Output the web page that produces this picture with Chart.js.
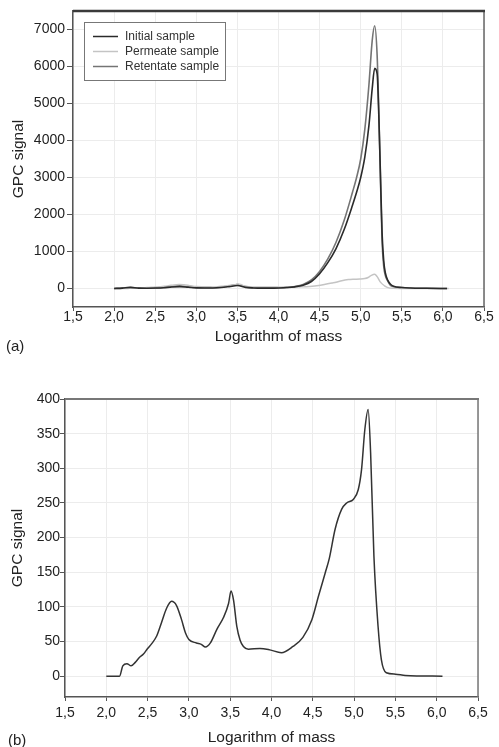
<!DOCTYPE html>
<html>
<head>
<meta charset="utf-8">
<script src="https://cdn.jsdelivr.net/npm/chart.js@4.4.1/dist/chart.umd.min.js"></script>
<style>
  body { margin: 0; background: #fff; width: 499px; height: 747px; position: relative; overflow: hidden; font-family: "Liberation Sans", Arial, sans-serif; }
  .panel { position: absolute; left: 0; width: 499px; }
  #wrapA { top: 0; height: 360px; }
  #wrapB { top: 362px; height: 385px; }
  .tag { position: absolute; font-size: 15px; color: #222; }
</style>
</head>
<body>
<div class="panel" id="wrapA"><canvas id="chartA"></canvas></div>
<div class="panel" id="wrapB"><canvas id="chartB"></canvas></div>
<div class="tag" style="left:6px; top:337px;">(a)</div>
<div class="tag" style="left:8px; top:731px;">(b)</div>
<script>
// log mass grid shared by the initial and retentate traces
const massA = [2.0, 2.1, 2.2, 2.3, 2.4, 2.5, 2.6, 2.7, 2.8, 2.9, 3.0, 3.1, 3.2, 3.3, 3.4, 3.5, 3.6, 3.7, 3.8, 3.9,
  4.0, 4.1, 4.2, 4.3, 4.4, 4.5, 4.6, 4.7, 4.8, 4.9, 4.95, 5.0, 5.05, 5.1, 5.14, 5.17, 5.2, 5.22, 5.24, 5.26,
  5.28, 5.3, 5.33, 5.36, 5.4, 5.5, 5.6, 5.8, 6.05];
const initialSignal = [0, 10, 30, 10, 8, 12, 20, 40, 50, 35, 18, 15, 15, 25, 50, 80, 30, 15, 10, 10,
  15, 25, 45, 90, 190, 400, 700, 1080, 1600, 2250, 2600, 3000, 3550, 4400, 5400, 5950, 5800, 4700, 3100, 1500,
  750, 420, 220, 120, 60, 25, 12, 5, 0];
const retentateSignal = [0, 15, 25, 10, 10, 15, 25, 55, 70, 45, 25, 20, 20, 35, 70, 110, 40, 20, 15, 15,
  20, 30, 55, 110, 230, 460, 800, 1250, 1850, 2600, 3000, 3500, 4300, 5500, 6700, 7100, 6300, 4800, 3000, 1300,
  600, 350, 200, 90, 50, 25, 12, 5, 0];

// permeate trace (also drawn on its own in panel b)
const massP = [2.0, 2.16, 2.2, 2.25, 2.3, 2.35, 2.4, 2.45, 2.5, 2.55, 2.61, 2.67, 2.73, 2.79, 2.85, 2.91, 2.96, 3.0,
  3.09, 3.15, 3.2, 3.26, 3.34, 3.42, 3.48, 3.51, 3.54, 3.58, 3.62, 3.66, 3.72, 3.86, 3.98, 4.12, 4.26, 4.38, 4.49,
  4.57, 4.65, 4.7, 4.77, 4.85, 4.91, 4.99, 5.05, 5.09, 5.13, 5.17, 5.2, 5.24, 5.29, 5.33, 5.39, 5.5, 5.62, 6.07];
const permeateSignal = [0, 0, 15, 18, 15, 20, 27, 32, 40, 47, 58, 78, 98, 108, 102, 82, 62, 53,
  48, 46, 42, 48, 68, 85, 105, 123, 110, 72, 52, 43, 39, 40, 38, 34, 43, 56, 82,
  116, 149, 170, 212, 241, 250, 255, 269, 298, 356, 385, 322, 173, 72, 24, 5, 3, 1, 0];

const xTicks = [1.5, 2.0, 2.5, 3.0, 3.5, 4.0, 4.5, 5.0, 5.5, 6.0, 6.5];
const yTicksA = [0, 1000, 2000, 3000, 4000, 5000, 6000, 7000];
const yTicksB = [0, 50, 100, 150, 200, 250, 300, 350, 400];

const pts = (xs, ys) => xs.map((x, i) => ({ x: x, y: ys[i] }));

Chart.defaults.font.family = '"Liberation Sans", Arial, sans-serif';
Chart.defaults.color = '#222';

// top and right edges of the plot box
const framePlugin = {
  id: 'frame',
  afterDatasetsDraw(chart, args, opts) {
    const { ctx, chartArea: a } = chart;
    ctx.save();
    ctx.strokeStyle = opts.rightColor;
    ctx.lineWidth = opts.rightWidth;
    ctx.beginPath(); ctx.moveTo(a.right, a.top); ctx.lineTo(a.right, a.bottom); ctx.stroke();
    ctx.strokeStyle = opts.topColor;
    ctx.lineWidth = opts.topWidth;
    ctx.beginPath(); ctx.moveTo(a.left, a.top); ctx.lineTo(a.right + 1, a.top); ctx.stroke();
    ctx.restore();
  }
};

// boxed legend sitting inside the plot area
const insetLegend = {
  id: 'insetLegend',
  afterDraw(chart, args, opts) {
    if (!opts.show) return;
    const { ctx } = chart;
    ctx.save();
    ctx.fillStyle = '#fff';
    ctx.fillRect(opts.x, opts.y, opts.w, opts.h);
    ctx.strokeStyle = '#777';
    ctx.lineWidth = 1;
    ctx.strokeRect(opts.x + 0.5, opts.y + 0.5, opts.w, opts.h);
    ctx.font = '12px "Liberation Sans", Arial, sans-serif';
    ctx.textBaseline = 'middle';
    chart.data.datasets.forEach((ds, i) => {
      const cy = opts.y + 14.5 + i * 15;
      ctx.strokeStyle = ds.borderColor;
      ctx.lineWidth = 1.5;
      ctx.beginPath(); ctx.moveTo(opts.x + 9, cy); ctx.lineTo(opts.x + 34, cy); ctx.stroke();
      ctx.fillStyle = '#333';
      ctx.fillText(ds.label, opts.x + 41, cy);
    });
    ctx.restore();
  }
};

function makeOptions(cfg) {
  return {
    responsive: true,
    maintainAspectRatio: false,
    animation: false,
    layout: { padding: { top: cfg.padTop, right: cfg.padRight, left: 0, bottom: 0 } },
    elements: { point: { radius: 0 } },
    plugins: {
      legend: { display: false },
      tooltip: { enabled: false },
      frame: cfg.frame,
      insetLegend: cfg.legend
    },
    scales: {
      x: {
        type: 'linear',
        min: 1.5,
        max: 6.5,
        afterBuildTicks: s => { s.ticks = xTicks.map(v => ({ value: v })); },
        afterFit: s => { s.height = cfg.xHeight; },
        grid: { color: '#ececec', lineWidth: 1, tickLength: 4, tickColor: '#555' },
        border: { color: '#555', width: 1.5 },
        ticks: {
          padding: cfg.xTickPad,
          maxRotation: 0,
          font: { size: 14 },
          callback: v => v.toFixed(1).replace('.', ',')
        },
        title: {
          display: true,
          text: 'Logarithm of mass',
          font: { size: 15.5 },
          padding: { top: 0, bottom: cfg.xTitlePad }
        }
      },
      y: {
        min: cfg.yMin,
        max: cfg.yMax,
        afterBuildTicks: s => { s.ticks = cfg.yTicks.map(v => ({ value: v })); },
        afterFit: s => { s.width = cfg.yWidth; },
        grid: { color: '#ececec', lineWidth: 1, tickLength: cfg.yTickLen, tickColor: '#555' },
        border: { color: '#555', width: 1.5 },
        ticks: { padding: cfg.yTickPad, font: { size: 14 }, callback: v => String(v) },
        title: {
          display: true,
          text: 'GPC signal',
          font: { size: 15.5 },
          padding: { top: cfg.yTitlePad, bottom: 0 }
        }
      }
    }
  };
}

new Chart(document.getElementById('chartA'), {
  type: 'line',
  data: {
    datasets: [
      { label: 'Initial sample', data: pts(massA, initialSignal), borderColor: '#2a2a2a', borderWidth: 1.6, cubicInterpolationMode: 'monotone' },
      { label: 'Permeate sample', data: pts(massP, permeateSignal), borderColor: '#c4c4c4', borderWidth: 1.5, cubicInterpolationMode: 'monotone' },
      { label: 'Retentate sample', data: pts(massA, retentateSignal), borderColor: '#747474', borderWidth: 1.6, cubicInterpolationMode: 'monotone' }
    ]
  },
  options: makeOptions({
    yMin: -500, yMax: 7500, yTicks: yTicksA,
    padTop: 11, padRight: 15, yWidth: 73, xHeight: 53,
    xTickPad: -2, xTitlePad: 14, yTickLen: 6, yTickPad: 2, yTitlePad: 9,
    frame: { topColor: '#3a3a3a', topWidth: 2.5, rightColor: '#666', rightWidth: 1.5 },
    legend: { show: true, x: 84, y: 22, w: 141, h: 58 }
  }),
  plugins: [framePlugin, insetLegend]
});

new Chart(document.getElementById('chartB'), {
  type: 'line',
  data: {
    datasets: [
      { label: 'Permeate sample', data: pts(massP, permeateSignal), borderColor: '#333', borderWidth: 1.5, cubicInterpolationMode: 'monotone' }
    ]
  },
  options: makeOptions({
    yMin: -30, yMax: 400, yTicks: yTicksB,
    padTop: 37, padRight: 21, yWidth: 65, xHeight: 50,
    xTickPad: 4, xTitlePad: 0, yTickLen: 5, yTickPad: 0, yTitlePad: 8,
    frame: { topColor: '#777', topWidth: 2, rightColor: '#777', rightWidth: 1.5 },
    legend: { show: false }
  }),
  plugins: [framePlugin, insetLegend]
});
</script>
</body>
</html>
